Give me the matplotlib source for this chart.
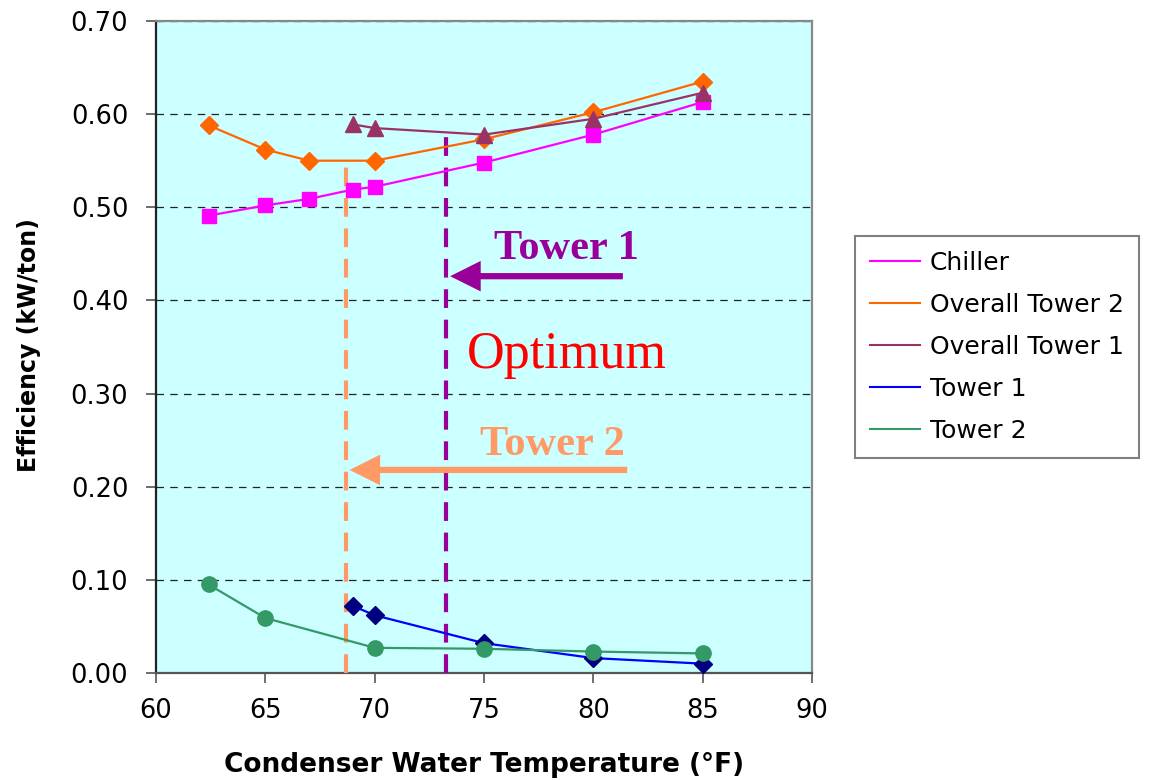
import matplotlib
matplotlib.use('Agg')
import matplotlib.pyplot as plt

# data
temp_chiller = [62.4, 65, 67, 69, 70, 75, 80, 85]
chiller = [0.491, 0.502, 0.509, 0.519, 0.522, 0.548, 0.578, 0.613]

temp_overall2 = [62.4, 65, 67, 70, 75, 80, 85]
overall_tower2 = [0.588, 0.562, 0.550, 0.550, 0.573, 0.602, 0.635]

temp_tower1 = [69, 70, 75, 80, 85]
overall_tower1 = [0.589, 0.585, 0.578, 0.595, 0.623]
tower1 = [0.072, 0.062, 0.032, 0.016, 0.010]

temp_tower2 = [62.4, 65, 70, 75, 80, 85]
tower2 = [0.095, 0.059, 0.027, 0.026, 0.023, 0.021]

# optimum temperatures and where they meet the overall curves
optimum_t2 = 68.7
optimum_t2_top = 0.549
optimum_t1 = 73.25
optimum_t1_top = 0.577

x_ticks = [60, 65, 70, 75, 80, 85, 90]
y_ticks = [0.0, 0.1, 0.2, 0.3, 0.4, 0.5, 0.6, 0.7]


def generate_chart():
  plt.rcParams['font.family'] = ['DejaVu Sans']
  fig = plt.figure(figsize=(11.5, 7.8), dpi=100)
  ax = fig.add_axes([0.1357, 0.1372, 0.5704, 0.8359])
  ax.set_facecolor('#CCFFFF')

  # series (legend shows only the lines)
  ax.plot(temp_chiller, chiller, color='#FF00FF', lw=1.6, marker='s', ms=10.5,
          mec='#FF00FF', mfc='#FF00FF', label='Chiller', zorder=4)
  ax.plot(temp_overall2, overall_tower2, color='#FF6600', lw=1.6, marker='D', ms=9,
          mec='#FF6600', mfc='#FF6600', label='Overall Tower 2', zorder=4)
  ax.plot(temp_tower1, overall_tower1, color='#993366', lw=1.6, marker='^', ms=11,
          mec='#993366', mfc='#993366', label='Overall Tower 1', zorder=4)
  ax.plot(temp_tower1, tower1, color='#0000FF', lw=1.6, marker='D', ms=9,
          mec='#000080', mfc='#000080', label='Tower 1', zorder=4)
  ax.plot(temp_tower2, tower2, color='#339966', lw=1.6, marker='o', ms=11,
          mec='#339966', mfc='#339966', label='Tower 2', zorder=4)

  # optimum markers (dashed verticals)
  ax.plot([optimum_t2, optimum_t2], [0, optimum_t2_top], color='#FF9966', lw=3,
          ls=(0, (4.5, 2.8)), zorder=3)
  ax.plot([optimum_t1, optimum_t1], [0, optimum_t1_top], color='#990099', lw=3,
          ls=(0, (4.5, 2.8)), zorder=3)

  # arrows
  ax.annotate('', xy=(73.45, 0.426), xytext=(81.35, 0.426),
              arrowprops=dict(arrowstyle='simple,head_length=2.2,head_width=2.2,tail_width=0.45',
                              color='#990099', lw=0, shrinkA=0, shrinkB=0, mutation_scale=10),
              zorder=5)
  ax.annotate('', xy=(68.85, 0.218), xytext=(81.55, 0.218),
              arrowprops=dict(arrowstyle='simple,head_length=2.2,head_width=2.2,tail_width=0.45',
                              color='#FF9966', lw=0, shrinkA=0, shrinkB=0, mutation_scale=10),
              zorder=5)

  serif = ['Liberation Serif', 'DejaVu Serif']
  ax.text(78.75, 0.444, 'Tower 1', color='#990099', fontsize=30.5, fontweight='bold',
          family=serif, ha='center', va='baseline', zorder=6)
  ax.text(78.78, 0.327, 'Optimum', color='#FF0000', fontsize=37.5,
          family=serif, ha='center', va='baseline', zorder=6)
  ax.text(78.15, 0.234, 'Tower 2', color='#FF9966', fontsize=30.5, fontweight='bold',
          family=serif, ha='center', va='baseline', zorder=6)

  # axes, ticks, grid
  ax.set_xlim(60, 90)
  ax.set_ylim(0, 0.7)
  ax.set_xticks(x_ticks)
  ax.set_yticks(y_ticks)
  ax.set_yticklabels(['%.2f' % v for v in y_ticks])
  ax.tick_params(axis='both', direction='out', length=7, width=1.2, color='#555555',
                 labelsize=18.5)
  ax.tick_params(axis='x', pad=11)
  ax.tick_params(axis='y', pad=13)
  ax.grid(axis='y', color='#222222', lw=0.9, ls=(0, (6, 5)))
  ax.set_axisbelow(True)

  ax.spines['left'].set_color('#222222')
  ax.spines['bottom'].set_color('#555555')
  ax.spines['top'].set_color('#888888')
  ax.spines['right'].set_color('#888888')
  for s in ax.spines.values():
    s.set_linewidth(1.6)

  fig.text(0.4209, 0.0192, 'Condenser Water Temperature (°F)', fontsize=19,
           fontweight='bold', ha='center', va='center')
  fig.text(0.0252, 0.5577, 'Efficiency (kW/ton)', fontsize=17, fontweight='bold',
           rotation=90, ha='center', va='center')

  # legend outside on the right, lines only
  handles, labels = ax.get_legend_handles_labels()
  leg_lines = [plt.Line2D([], [], color=h.get_color(), lw=1.5) for h in handles]
  leg = fig.legend(leg_lines, labels, loc='upper left', bbox_to_anchor=(0.7435, 0.6974),
                   fontsize=18, frameon=True, fancybox=False, framealpha=1,
                   edgecolor='#808080', handlelength=2.0, handletextpad=0.4,
                   labelspacing=0.72, borderpad=0.6, borderaxespad=0)
  leg.get_frame().set_linewidth(1.5)

  fig.savefig('out.png', dpi=100)


if __name__ == '__main__':
  generate_chart()
